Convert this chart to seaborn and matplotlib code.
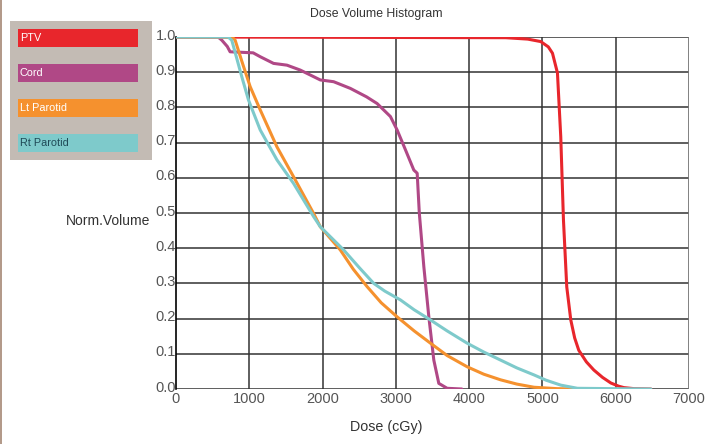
import matplotlib
matplotlib.use("Agg")
import matplotlib.pyplot as plt
from matplotlib.patches import Rectangle
from matplotlib.transforms import ScaledTranslation
import seaborn as sns
import pandas as pd

# ---- data ----
structures = ["PTV", "Cord", "Lt Parotid", "Rt Parotid"]
colors = ["#e8262c", "#b04886", "#f5912e", "#7ecacb"]
text_colors = ["#ffffff", "#ffffff", "#ffffff", "#1f4a57"]

ptv_dose = [0, 4500, 4800, 4977, 5080, 5137, 5205, 5250, 5287, 5332, 5387, 5440,
            5496, 5600, 5701, 5820, 5934, 6040, 6111, 6250, 6480]
ptv_vol = [1.0, 0.998, 0.994, 0.987, 0.972, 0.954, 0.898, 0.717, 0.48, 0.29, 0.196, 0.145,
           0.11, 0.077, 0.054, 0.033, 0.017, 0.008, 0.004, 0.001, 0.0]

cord_dose = [0, 574, 625, 700, 738, 1053, 1149, 1331, 1514, 1696, 1969, 2151, 2379, 2600,
             2744, 2926, 3017, 3130, 3245, 3291, 3320, 3382, 3450, 3518, 3586, 3700, 3900]
cord_vol = [1.0, 1.0, 0.991, 0.973, 0.958, 0.955, 0.944, 0.925, 0.920, 0.906, 0.878, 0.873,
            0.854, 0.83, 0.811, 0.774, 0.736, 0.68, 0.622, 0.613, 0.50, 0.347, 0.205, 0.082,
            0.016, 0.002, 0.0]

lt_dose = [0, 766, 807, 900, 1012, 1149, 1377, 1604, 1877, 1969, 2242, 2420, 2607, 2800,
           3017, 3250, 3473, 3700, 3974, 4200, 4430, 4650, 4885, 5200, 5478]
lt_vol = [1.0, 1.0, 0.991, 0.93, 0.859, 0.793, 0.688, 0.603, 0.499, 0.461, 0.395, 0.34,
          0.291, 0.245, 0.205, 0.165, 0.130, 0.095, 0.063, 0.042, 0.026, 0.014, 0.005,
          0.001, 0.0]

rt_dose = [0, 711, 761, 898, 989, 1149, 1377, 1604, 1877, 1969, 2288, 2500, 2698, 2850,
           3063, 3250, 3473, 3700, 3974, 4200, 4430, 4650, 4885, 5050, 5250, 5478, 6480]
rt_vol = [1.0, 1.0, 0.991, 0.887, 0.821, 0.736, 0.651, 0.584, 0.490, 0.461, 0.395, 0.345,
          0.30, 0.278, 0.253, 0.225, 0.196, 0.165, 0.13, 0.105, 0.082, 0.06, 0.040, 0.025,
          0.011, 0.002, 0.0]

x_ticks = [0, 1000, 2000, 3000, 4000, 5000, 6000, 7000]
y_ticks = [0.0, 0.1, 0.2, 0.3, 0.4, 0.5, 0.6, 0.7, 0.8, 0.9, 1.0]

title = "Dose Volume Histogram"
xlabel = "Dose (cGy)"
ylabel = "Norm.Volume"

# ---- build table ----
frames = []
for name, d, v in zip(structures, [ptv_dose, cord_dose, lt_dose, rt_dose],
                      [ptv_vol, cord_vol, lt_vol, rt_vol]):
    frames.append(pd.DataFrame({"Dose": d, "Volume": v, "Structure": name}))
df = pd.concat(frames, ignore_index=True)

sns.set_style("white")
plt.rcParams["font.family"] = ["Liberation Sans", "DejaVu Sans"]

W, H = 722, 444
fig = plt.figure(figsize=(W / 100, H / 100), dpi=100)
fig.patch.set_facecolor("white")

def fx(px):
    return px / W

def fy(py):
    return 1 - py / H

ax = fig.add_axes([fx(176), fy(389), fx(689) - fx(176), fy(37) - fy(389)])
ax.set_facecolor("white")

# grid
for xt in x_ticks[1:-1]:
    ax.axvline(xt, color="#333333", lw=1.1, zorder=0)
for yt in y_ticks:
    ax.axhline(yt, color="#333333", lw=1.1, zorder=0)
ax.axvline(7000, color="#777777", lw=1.3, zorder=0)

sns.lineplot(data=df, x="Dose", y="Volume", hue="Structure", hue_order=structures,
             palette=dict(zip(structures, colors)), sort=False, estimator=None,
             lw=2.2, legend=False, ax=ax, zorder=3)

ax.set_xlim(0, 7000)
ax.set_ylim(0, 1.0)
ax.set_xticks(x_ticks)
ax.set_yticks(y_ticks)
ax.set_xticklabels([str(t) for t in x_ticks])
ax.set_yticklabels([f"{t:.1f}" for t in y_ticks])
for s in ["top", "right", "bottom"]:
    ax.spines[s].set_visible(False)
ax.spines["left"].set_color("black")
ax.spines["left"].set_linewidth(1.2)
ax.tick_params(axis="both", length=0, labelsize=10.5, colors="#555555")
ax.tick_params(axis="y", pad=0)
ax.tick_params(axis="x", pad=2)
ax.set_xlabel("")
ax.set_ylabel("")

# nudge y tick labels slightly above their grid lines
up = ScaledTranslation(0, 3 / 100, fig.dpi_scale_trans)
for lab in ax.get_yticklabels():
    lab.set_transform(lab.get_transform() + up)

fig.text(fx(376), fy(14), title, ha="center", va="center", fontsize=8.8, color="#333333")
fig.text(fx(386), fy(427), xlabel, ha="center", va="center", fontsize=10.3, color="#333333")
fig.text(fx(150), fy(221), ylabel, ha="right", va="center", fontsize=10, color="#333333")

# legend panel
fig.add_artist(Rectangle((fx(10), fy(160)), fx(152) - fx(10), fy(21) - fy(160),
                         transform=fig.transFigure, facecolor="#c3bbb4", edgecolor="none"))
bar_tops = [29, 64, 99, 134]
for name, c, tc, top in zip(structures, colors, text_colors, bar_tops):
    fig.add_artist(Rectangle((fx(18), fy(top + 18)), fx(138) - fx(18), fy(top) - fy(top + 18),
                             transform=fig.transFigure, facecolor=c, edgecolor="none"))
    fig.text(fx(20), fy(top + 9), name, ha="left", va="center", fontsize=7.8, color=tc)

# left border stripe
fig.add_artist(Rectangle((0, 0), fx(2), 1, transform=fig.transFigure,
                         facecolor="#b39a8a", edgecolor="none"))

fig.savefig("out.png", dpi=100)
